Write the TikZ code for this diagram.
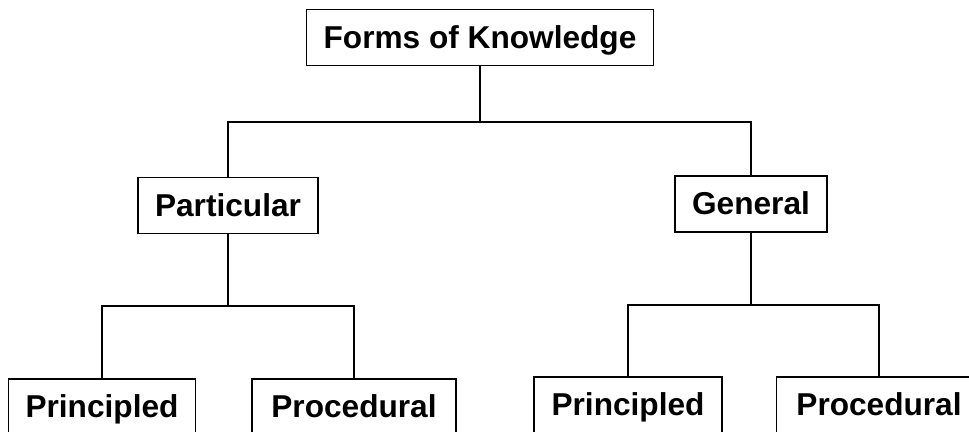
\documentclass[tikz,border=0pt]{standalone}
\usepackage{fontspec}
\setmainfont{Liberation Sans}
\usetikzlibrary{positioning, calc}
\tikzset{
  box/.style={draw, line width=0.9pt, fill=white, inner xsep=0.34cm, minimum height=1.12cm,
    text height=15pt, text depth=3pt,
    font=\fontsize{18}{21}\selectfont\bfseries},
  link/.style={line width=0.9pt},
}
\begin{document}
\begin{tikzpicture}[x=0.02cm, y=-0.02cm]
    \useasboundingbox (0,0) rectangle (969,432);
    \node[box] (forms) at (480,37.5) {Forms of Knowledge};
    \node[box] (part) at (228,205.5) {Particular};
    \node[box] (gen) at (751,204) {General};
    \node[box, minimum width=3.72cm] (pprin) at (102,407) {Principled};
    \node[box, minimum width=4.08cm] (pproc) at (354,407) {Procedural};
    \node[box, minimum width=3.76cm] (gprin) at (628,405) {Principled};
    \node[box, minimum width=4.1cm] (gproc) at (879,405) {Procedural};
    % tree connectors
    \coordinate (j0) at (forms.south |- 0,122);
    \coordinate (j1) at (part.south |- 0,306);
    \coordinate (j2) at (gen.south |- 0,305);
    \draw[link] (forms.south) -- (j0);
    \draw[link] (part.north) |- (j0) -| (gen.north);
    \draw[link] (part.south) -- (j1);
    \draw[link] (pprin.north) |- (j1) -| (pproc.north);
    \draw[link] (gen.south) -- (j2);
    \draw[link] (gprin.north) |- (j2) -| (gproc.north);
\end{tikzpicture}
\end{document}
